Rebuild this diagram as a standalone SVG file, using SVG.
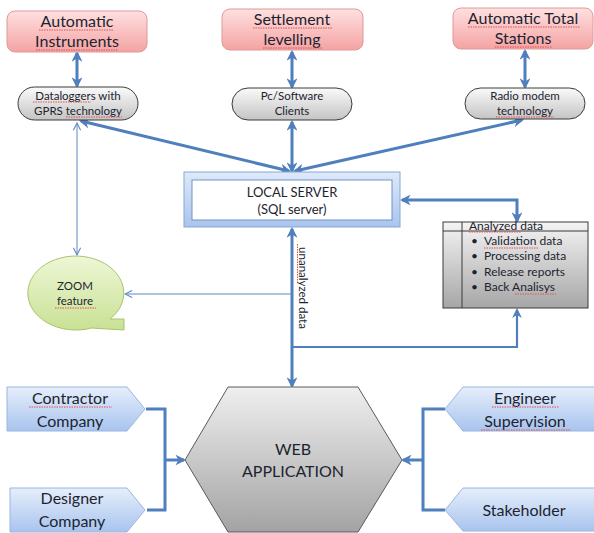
<svg xmlns="http://www.w3.org/2000/svg" width="594" height="533" viewBox="0 0 594 533">
<style>
text{font-family:Lato,"Liberation Sans",sans-serif;fill:#1c2430;text-anchor:middle}
.big{font-size:16px}
.sm{font-size:11.5px}
.lst{font-size:12px;text-anchor:start}
.thick{fill:none;stroke:#4f7fbc;stroke-width:3}
.mid{fill:none;stroke:#4f7fbc;stroke-width:2.2}
.thin{fill:none;stroke:#5d8ac4;stroke-width:1}
.sq{fill:none;stroke:#e05050;stroke-width:1;stroke-dasharray:1.5 1}
</style>
<defs>
<linearGradient id="gPink" x1="0" y1="0" x2="0" y2="1"><stop offset="0" stop-color="#ffe0e0"/><stop offset="1" stop-color="#f4a3a3"/></linearGradient>
<linearGradient id="gGray" x1="0" y1="0" x2="0" y2="1"><stop offset="0" stop-color="#fafafa"/><stop offset="1" stop-color="#c4c4c4"/></linearGradient>
<linearGradient id="gBox" x1="0" y1="0" x2="0" y2="1"><stop offset="0" stop-color="#f4f4f4"/><stop offset="1" stop-color="#a6a6a6"/></linearGradient>
<linearGradient id="gHex" x1="0" y1="0" x2="0" y2="1"><stop offset="0" stop-color="#efefef"/><stop offset="1" stop-color="#a3a3a3"/></linearGradient>
<linearGradient id="gBlue" x1="0" y1="0" x2="0" y2="1"><stop offset="0" stop-color="#e6eefb"/><stop offset="1" stop-color="#a8c4ee"/></linearGradient>
<linearGradient id="gSrv" x1="0" y1="0" x2="0" y2="1"><stop offset="0" stop-color="#dfe9f8"/><stop offset="1" stop-color="#a9c4ec"/></linearGradient>
<linearGradient id="gGreen" x1="0" y1="0" x2="0" y2="1"><stop offset="0" stop-color="#eef7d6"/><stop offset="1" stop-color="#c9e194"/></linearGradient>
<marker id="ah" viewBox="0 0 10 10" refX="8" refY="5" markerWidth="3.6" markerHeight="3.6" orient="auto-start-reverse" markerUnits="strokeWidth">
<path d="M0,0 L10,5 L0,10 L3,5 Z" fill="#4f7fbc"/></marker>
<marker id="ahm" viewBox="0 0 10 10" refX="8" refY="5" markerWidth="4.5" markerHeight="4.5" orient="auto-start-reverse" markerUnits="strokeWidth">
<path d="M0,0 L10,5 L0,10 L3,5 Z" fill="#4f7fbc"/></marker>
<marker id="at" viewBox="0 0 10 10" refX="9" refY="5" markerWidth="9" markerHeight="9" orient="auto-start-reverse" markerUnits="userSpaceOnUse">
<path d="M1,1 L9,5 L1,9" fill="none" stroke="#5d8ac4" stroke-width="1.2"/></marker>
</defs>

<g id="connectors">
<path class="thick" d="M77,53 L77,86" marker-start="url(#ah)" marker-end="url(#ah)"/>
<path class="thick" d="M292,52 L292,87" marker-start="url(#ah)" marker-end="url(#ah)"/>
<path class="thick" d="M525,51 L525,87" marker-start="url(#ah)" marker-end="url(#ah)"/>
<path class="thick" d="M81,121 L289,171" marker-start="url(#ah)" marker-end="url(#ah)"/>
<path class="thick" d="M292,122 L292,171" marker-start="url(#ah)" marker-end="url(#ah)"/>
<path class="thick" d="M522,120 L295,171" marker-start="url(#ah)" marker-end="url(#ah)"/>
<path class="thick" d="M402,200 L517,200 L517,221" marker-start="url(#ah)" marker-end="url(#ah)"/>
<path class="thick" d="M292,229 L292,386" marker-start="url(#ah)" marker-end="url(#ah)"/>
<path class="mid" d="M292,347 L517,347 L517,310" marker-end="url(#ahm)"/>
<path class="thin" d="M292,294 L125,294" marker-end="url(#at)"/>
<path class="thin" d="M77,123 L77,255" marker-start="url(#at)" marker-end="url(#at)"/>
<path class="thick" d="M146,409 L165,409 L165,510 L147,510"/>
<path class="thick" d="M165,460 L184,460" marker-end="url(#ah)"/>
<path class="thick" d="M445,409 L423,409 L423,510 L445,510"/>
<path class="thick" d="M423,460 L403,460" marker-end="url(#ah)"/>
</g>

<g id="auto-instruments">
<rect x="7" y="11" width="140" height="41" rx="8" fill="url(#gPink)" stroke="#dd9a98"/>
<text class="big" x="77" y="27">Automatic</text>
<text class="big" x="77" y="47">Instruments</text>
<path class="sq" d="M39,30 H113 M36,50 H118"/>
</g>
<g id="settlement">
<rect x="222" y="9" width="141" height="41" rx="8" fill="url(#gPink)" stroke="#dd9a98"/>
<text class="big" x="292" y="25">Settlement</text>
<text class="big" x="292" y="45">levelling</text>
<path class="sq" d="M253,28 H332 M263,48 H322"/>
</g>
<g id="ats">
<rect x="453" y="8" width="140" height="41" rx="8" fill="url(#gPink)" stroke="#dd9a98"/>
<text class="big" x="523" y="24">Automatic Total</text>
<text class="big" x="523" y="44">Stations</text>
<path class="sq" d="M468,27 H580 M495,47 H552"/>
</g>

<g id="dataloggers">
<rect x="18" y="87" width="120" height="33" rx="16.5" fill="url(#gGray)" stroke="#3a3a3a"/>
<text class="sm" x="78" y="100">Dataloggers with</text>
<text class="sm" x="78" y="115">GPRS technology</text>
<path class="sq" d="M33,102 H91 M66,117 H122"/>
</g>
<g id="pc-software">
<rect x="232" y="88" width="120" height="32" rx="16" fill="url(#gGray)" stroke="#3a3a3a"/>
<text class="sm" x="292" y="100">Pc/Software</text>
<text class="sm" x="292" y="115">Clients</text>
</g>
<g id="radio-modem">
<rect x="465" y="88" width="120" height="31" rx="15.5" fill="url(#gGray)" stroke="#3a3a3a"/>
<text class="sm" x="525" y="100">Radio modem</text>
<text class="sm" x="525" y="115">technology</text>
<path class="sq" d="M496,117 H554"/>
</g>

<g id="local-server">
<rect x="184" y="172" width="216" height="55" fill="url(#gSrv)" stroke="#86a8d8"/>
<rect x="192" y="180" width="200" height="40" fill="#ffffff" stroke="#6f93c9"/>
<text x="292" y="197" style="font-size:13px">LOCAL SERVER</text>
<text x="292" y="214" style="font-size:13px">(SQL server)</text>
</g>

<g id="zoom-feature">
<path d="M110,319 L124,319 L124,330 L91.5,328 A48,37 0 1 1 110,319 Z" fill="url(#gGreen)" stroke="#a9c46e"/>
<text class="sm" x="75" y="290">ZOOM</text>
<text class="sm" x="75" y="305">feature</text>
<path class="sq" d="M55,308 H96"/>
</g>

<g id="unanalyzed-label">
<text transform="translate(299,288) rotate(90)" style="font-size:11.5px">unanalyzed data</text>
<path class="sq" d="M297.5,244 V282"/>
</g>

<g id="analyzed-data">
<rect x="443" y="222" width="145" height="86" fill="url(#gBox)" stroke="#3a3a3a"/>
<path d="M443,231 H588 M462,222 V308" stroke="#3a3a3a" fill="none"/>
<text class="lst" x="469" y="230">Analyzed  data</text>
<path class="sq" d="M469,232 H521"/>
<text class="lst" x="471" y="245">•</text>
<text class="lst" x="484" y="245">Validation data</text>
<text class="lst" x="471" y="260">•</text>
<text class="lst" x="484" y="260">Processing data</text>
<text class="lst" x="471" y="276">•</text>
<text class="lst" x="484" y="276">Release reports</text>
<text class="lst" x="471" y="291">•</text>
<text class="lst" x="484" y="291">Back Analisys</text>
<path class="sq" d="M484,248 H539 M515,294 H556"/>
</g>

<g id="web-application">
<path d="M228,387 L358,387 L402,460 L358,532 L228,532 L185,460 Z" fill="url(#gHex)" stroke="#5a5a5a"/>
<text x="293" y="455" style="font-size:16px">WEB</text>
<text x="293" y="477" style="font-size:16px">APPLICATION</text>
</g>

<g id="contractor">
<path d="M7,387 L127,387 L145,409 L127,431 L7,431 Z" fill="url(#gBlue)" stroke="#9ab6e0"/>
<text class="big" x="70" y="404">Contractor</text>
<text class="big" x="70" y="427">Company</text>
<path class="sq" d="M29,407 H112"/>
</g>
<g id="designer">
<path d="M10,488 L127,488 L145,510 L127,532 L10,532 Z" fill="url(#gBlue)" stroke="#9ab6e0"/>
<text class="big" x="72" y="504">Designer</text>
<text class="big" x="72" y="527">Company</text>
</g>
<g id="engineer">
<path d="M445,409 L463,387 L600,387 L600,431 L463,431 Z" fill="url(#gBlue)" stroke="#9ab6e0"/>
<text class="big" x="525" y="404">Engineer</text>
<text class="big" x="525" y="427">Supervision</text>
<path class="sq" d="M492,407 H559 M481,430 H570"/>
</g>
<g id="stakeholder">
<path d="M445,510 L463,488 L600,488 L600,531 L463,531 Z" fill="url(#gBlue)" stroke="#9ab6e0"/>
<text class="big" x="524" y="516">Stakeholder</text>
</g>
</svg>
